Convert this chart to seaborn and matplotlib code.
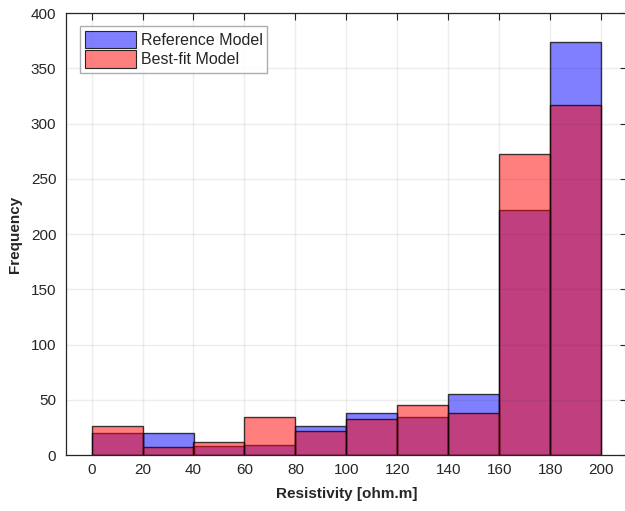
import matplotlib.pyplot as plt
import numpy as np
import pandas as pd
import seaborn as sns
from matplotlib.patches import Patch

bin_edges = list(range(0, 201, 20))
bin_centers = [10, 30, 50, 70, 90, 110, 130, 150, 170, 190]
reference_counts = [20, 20, 8, 9, 26, 38, 34, 55, 222, 374]
bestfit_counts = [26, 7, 12, 34, 22, 33, 45, 38, 272, 317]
x_ticks = list(range(0, 201, 20))
y_ticks = list(range(0, 401, 50))


def main() -> None:
    sns.set_theme(style="white")
    plt.rcParams["font.family"] = ["Liberation Sans", "DejaVu Sans"]

    df = pd.DataFrame({
        "resistivity": bin_centers * 2,
        "count": reference_counts + bestfit_counts,
        "model": ["Reference Model"] * len(bin_centers) + ["Best-fit Model"] * len(bin_centers),
    })

    fig = plt.figure(figsize=(6.25, 5.11), dpi=100)
    ax = fig.add_axes([66 / 625, 1 - 455 / 511, 561 / 625, 442 / 511])

    for name, color in [("Reference Model", (0, 0, 1)), ("Best-fit Model", (1, 0, 0))]:
        sub = df[df["model"] == name]
        sns.histplot(
            data=sub, x="resistivity", weights="count", bins=bin_edges,
            color=color, alpha=0.5, edgecolor=(0, 0, 0, 0.75), linewidth=1.0, ax=ax,
        )

    ax.set_xlim(-10, 210)
    ax.set_ylim(0, 400)
    ax.set_xticks(x_ticks)
    ax.set_yticks(y_ticks)
    ax.grid(True, color=(0.15, 0.15, 0.15), alpha=0.08, lw=1.0)
    ax.set_axisbelow(False)
    ax.tick_params(direction="in", length=5, width=0.8, top=True, right=True,
                   labelsize=11, labelcolor="#262626", color="#262626")
    ax.tick_params(axis="x", pad=6)
    ax.tick_params(axis="y", pad=7)
    for s in ax.spines.values():
        s.set_color("#262626")
        s.set_linewidth(0.9)

    ax.set_xlabel("Resistivity [ohm.m]", fontsize=11, fontweight="bold", color="#262626", labelpad=7)
    ax.set_ylabel("Frequency", fontsize=11, fontweight="bold", color="#262626", labelpad=6)

    handles = [
        Patch(facecolor=(0, 0, 1, 0.5), edgecolor="#262626", lw=0.8, label="Reference Model"),
        Patch(facecolor=(1, 0, 0, 0.5), edgecolor="#262626", lw=0.8, label="Best-fit Model"),
    ]
    leg = ax.legend(handles=handles, loc="upper left", bbox_to_anchor=(0.025, 0.971),
                    fontsize=11.5, frameon=True, fancybox=False, handlelength=3.2,
                    handleheight=1.3, handletextpad=0.3, borderpad=0.3, labelspacing=0.15,
                    borderaxespad=0)
    leg.get_frame().set_edgecolor("#999999")
    leg.get_frame().set_linewidth(1.0)
    for t in leg.get_texts():
        t.set_color("#262626")

    fig.savefig("out.png", dpi=100)
    plt.close(fig)


if __name__ == "__main__":
    main()
